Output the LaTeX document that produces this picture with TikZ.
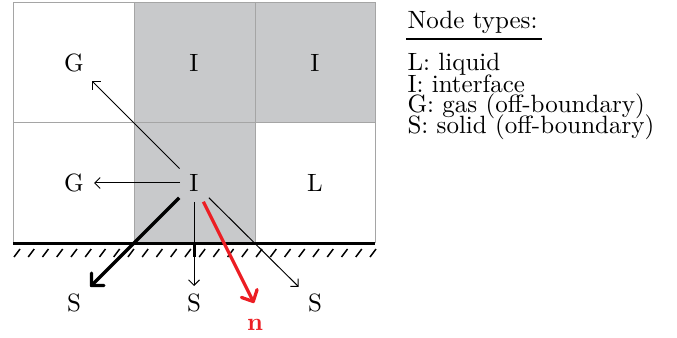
\documentclass[tikz,border=0pt]{standalone}
\usetikzlibrary{calc,arrows.meta}
\definecolor{cellgrey}{RGB}{200,201,203}
\definecolor{gridgrey}{RGB}{165,165,165}
\definecolor{nred}{RGB}{236,30,36}
\begin{document}
\begin{tikzpicture}[x=0.4pt,y=-0.4pt,
  lab/.style={inner sep=0pt,font=\normalsize},
  legend/.style={inner sep=0pt,anchor=base west},
  thinarrow/.style={-{Straight Barb[length=2.2pt,width=4.4pt]},line width=0.4pt},
  thickarrow/.style={-{Straight Barb[length=3.6pt,width=7pt,round]},line width=1.3pt},
  redarrow/.style={-{Straight Barb[length=3.6pt,width=7pt,round]},line width=1.3pt,draw=nred}]
\useasboundingbox (0,0) rectangle (677,338);
% grey cells
\fill[cellgrey] (134,3) rectangle (255,243);
\fill[cellgrey] (255,3) rectangle (375,123);
% grid
\draw[gridgrey,line width=0.4pt] (13,3) rectangle (375,243);
\draw[gridgrey,line width=0.4pt] (134,3) -- (134,243) (255,3) -- (255,243) (13,123) -- (375,123);
% wall
\draw[line width=1.2pt] (13,243.5) -- (375,243.5);
\foreach \i in {0,...,25} \draw[line width=0.6pt] (14+14.24*\i,257) -- ++(6,-8);
\draw[line width=1.2pt] (194,243.5) -- (194,257.5);
% labels
\node[lab] (G1) at (74,63) {G};
\node[lab] (I1) at (194,63) {I};
\node[lab] (I2) at (315,63) {I};
\node[lab] (G2) at (74,183) {G};
\node[lab] (I) at (194,183) {I};
\node[lab] (L) at (315,183) {L};
\node[lab] (S1) at (74,303) {S};
\node[lab] (S2) at (194,303) {S};
\node[lab] (S3) at (315,303) {S};
\node[lab,text=nred] (n) at (255,325) {$\mathbf{n}$};
\coordinate (ntip) at (254,303);
% arrows
\draw[thinarrow,shorten <=8.2pt,shorten >=10.4pt] (I.center) -- (G1.center);
\draw[thinarrow,shorten <=5.6pt,shorten >=8pt] (I.center) -- (G2.center);
\draw[thickarrow,shorten <=8.4pt,shorten >=9.2pt] (I.center) -- (S1.center);
\draw[thinarrow,shorten <=7.6pt,shorten >=6.8pt] (I.center) -- (S2.center);
\draw[thinarrow,shorten <=8.4pt,shorten >=9.2pt] (I.center) -- (S3.center);
\draw[redarrow,shorten <=8.4pt] (I.center) -- (ntip);
% legend
\node[legend] (title) at (407,28.5) {Node types:};
\draw[line width=0.8pt] (406,39.5) -- (542,39.5);
\node[legend] (lL) at (407,71) {L: liquid};
\node[legend] (lI) at (407,92.5) {I: interface};
\node[legend] (lG) at (407,113) {G: gas (off-boundary)};
\node[legend] (lS) at (407,133.5) {S: solid (off-boundary)};
\end{tikzpicture}
\end{document}
